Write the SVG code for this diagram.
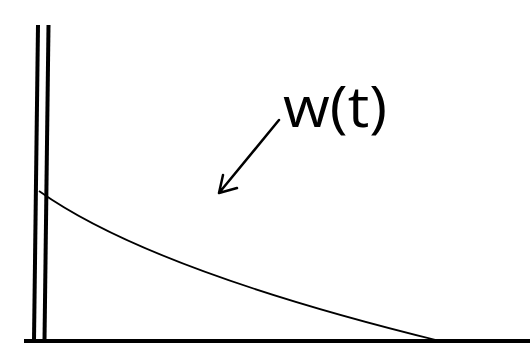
<svg xmlns="http://www.w3.org/2000/svg" width="530" height="343" viewBox="0 0 530 343">
<style>
.wall{stroke:#000;stroke-width:4;fill:none}
.curve{stroke:#000;stroke-width:1.8;fill:none}
.arrow{stroke:#000;stroke-width:2.5;fill:none;stroke-linecap:round;stroke-linejoin:round}
.label{font-family:"Open Sans","Liberation Sans",sans-serif;font-size:57px;fill:#000}
</style>
<rect width="530" height="343" fill="#fff"/>
<g id="wall">
<line class="wall" x1="38" y1="25" x2="34" y2="341"/>
<line class="wall" x1="48.5" y1="25" x2="44.5" y2="341"/>
</g>
<g id="ground">
<line class="wall" x1="24" y1="341" x2="530" y2="341"/>
</g>
<g id="curve">
<path class="curve" d="M39,191 Q150,270 440,341"/>
</g>
<g id="connectors">
<path class="arrow" d="M279,120 L219,193 M223,175 L219,193 L237,188"/>
</g>
<g id="label">
<text class="label" x="283" y="127" textLength="104" lengthAdjust="spacingAndGlyphs">w(t)</text>
</g>
</svg>
